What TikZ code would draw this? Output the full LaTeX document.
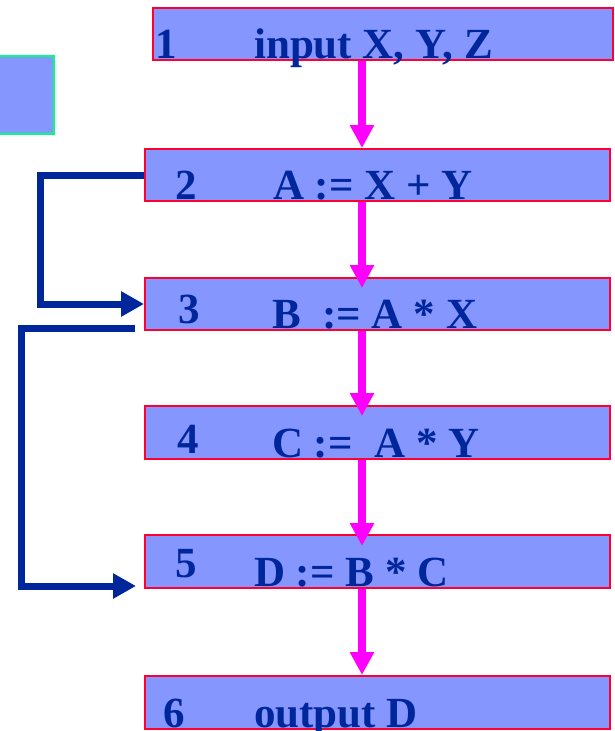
\documentclass[tikz,border=0pt]{standalone}
\usepackage{fontspec}
\setmainfont{Liberation Serif}
\usetikzlibrary{arrows.meta}

\definecolor{boxfill}{RGB}{133,151,255}
\definecolor{boxline}{RGB}{255,0,51}
\definecolor{inkblue}{RGB}{0,38,156}
\definecolor{flowpink}{RGB}{255,0,255}
\definecolor{sidegreen}{RGB}{0,255,128}

\tikzset{
  stmtbox/.style={draw=boxline, fill=boxfill, line width=2pt, rectangle,
    inner sep=0pt, minimum width=465pt, minimum height=52pt},
  label/.style={anchor=base west, inner sep=0pt, text=inkblue,
    font=\fontsize{43}{50}\selectfont\bfseries},
  flow/.style={draw=flowpink, line width=7.5pt,
    -{Triangle[width=23pt,length=23pt]}},
  jump/.style={draw=inkblue, line width=7pt, line join=miter,
    -{Triangle[width=24pt,length=23pt]}}
}

\begin{document}
\begin{tikzpicture}[x=1pt, y=-1pt]
  \useasboundingbox (0,0) rectangle (615,731);

  % side square
  \node[draw=sidegreen, fill=boxfill, line width=2pt, inner sep=0pt,
        minimum width=56pt, minimum height=78pt] (side) at (26,95) {};

  % statement boxes
  \node[stmtbox, minimum width=460pt] (b1) at (383,34) {};
  \node[stmtbox] (b2) at (377.5,175) {};
  \node[stmtbox] (b3) at (377.5,304) {};
  \node[stmtbox, minimum height=53pt] (b4) at (377.5,432.5) {};
  \node[stmtbox, minimum height=53pt] (b5) at (377.5,561.5) {};
  \node[stmtbox, minimum height=53pt] (b6) at (377.5,702.5) {};

  % flow column
  \coordinate (col) at (362,0);
  \draw[flow] (b1.south -| col) -- (b2.north -| col);
  \draw[flow, shorten >=-11pt] (b2.south -| col) -- (b3.north -| col);
  \draw[flow, shorten >=-11pt] (b3.south -| col) -- (b4.north -| col);
  \draw[flow, shorten >=-12pt] (b4.south -| col) -- (b5.north -| col);
  \draw[flow] (b5.south -| col) -- (b6.north -| col);

  % back edges on the left
  \draw[jump] (b2.west) -- ++(-104,0) |- (b3.west);
  \draw[jump] ([xshift=-9pt,yshift=3pt]b3.south west) -- ++(-114,0)
              |- ([xshift=-8pt,yshift=3pt]b5.south west);

  % line numbers and statements
  \node[label] (n1) at (155,58) {1};
  \node[label] (s1) at (254,58) {input X, Y, Z};
  \node[label] (n2) at (175,199) {2};
  \node[label] (s2) at (273,199) {A := X + Y};
  \node[label] (n3) at (178,323) {3};
  \node[label] (s3) at (272,328) {B\ \ := A * X};
  \node[label] (n4) at (177,453) {4};
  \node[label] (s4) at (272,457) {C :=\ \ A * Y};
  \node[label] (n5) at (175,577) {5};
  \node[label] (s5) at (254,586) {D := B * C};
  \node[label] (n6) at (163,727) {6};
  \node[label] (s6) at (254,727) {output D};
\end{tikzpicture}
\end{document}
